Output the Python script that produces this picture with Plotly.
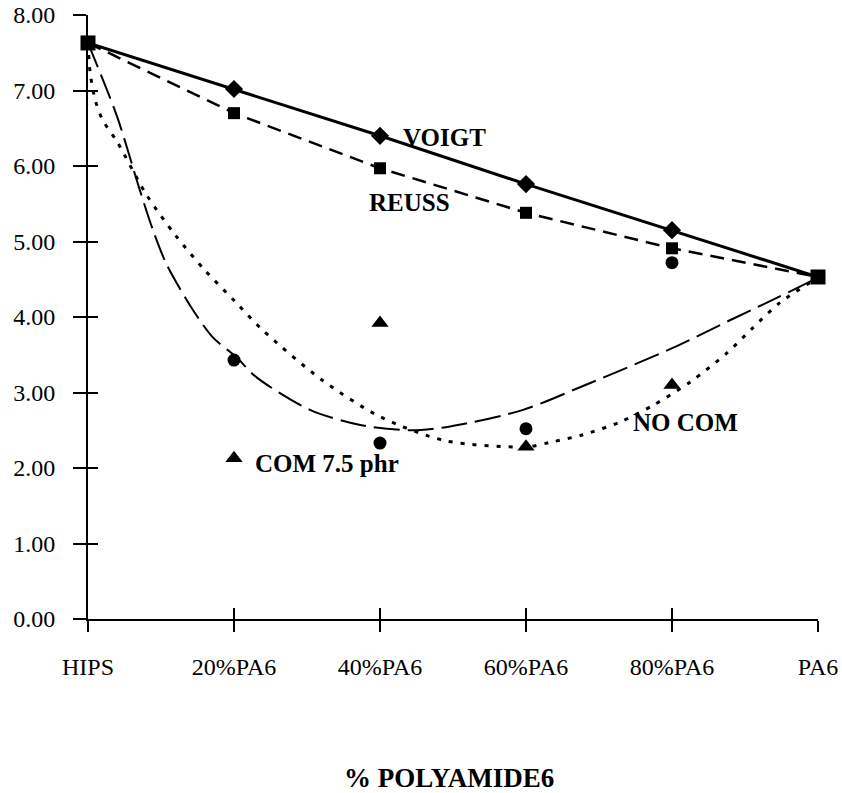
import plotly.graph_objects as go

# ---------------- data ----------------
categories = ["HIPS", "20%PA6", "40%PA6", "60%PA6", "80%PA6", "PA6"]
pa6_pct = [0, 20, 40, 60, 80, 100]

voigt = [7.63, 7.02, 6.40, 5.76, 5.15, 4.53]
reuss = [7.63, 6.70, 5.97, 5.38, 4.91, 4.53]
no_com = [7.63, 3.43, 2.33, 2.52, 4.72, 4.53]      # circles
com_75 = [7.63, 2.13, 3.92, 2.28, 3.10, 4.53]      # triangles

# trend curves
trend_long_x = [0, 4, 7.1, 8.9, 10.8, 14.4, 17.1, 20.3, 23.1, 30.4, 37.3, 44, 49.6,
                59.6, 67.4, 80.1, 88, 93, 100]
trend_long_y = [7.63, 6.65, 5.68, 5.15, 4.69, 4.09, 3.73, 3.47, 3.20, 2.77, 2.57, 2.50, 2.55,
                2.77, 3.07, 3.59, 3.96, 4.19, 4.52]

trend_dot_x = [0, 0.3, 1, 2, 4, 8, 12, 16, 20, 24, 32, 40, 49, 60, 63.3, 67.8, 72.9,
               77.4, 82.5, 87.5, 91, 94.8, 100]
trend_dot_y = [7.63, 7.23, 6.87, 6.61, 6.32, 5.62, 5.08, 4.62, 4.22, 3.82, 3.17, 2.68, 2.36,
               2.28, 2.34, 2.44, 2.61, 2.83, 3.14, 3.52, 3.85, 4.19, 4.52]

y_ticks = [0, 1, 2, 3, 4, 5, 6, 7, 8]

# ---------------- figure ----------------
serif = "Liberation Serif, Times New Roman, serif"
fig = go.Figure()

def sizes(inner, end):
    n = len(pa6_pct)
    return [end if i in (0, n - 1) else inner for i in range(n)]

def mk(symbol, size):
    return dict(symbol=symbol, size=size, color="black", opacity=1,
                line=dict(width=0, color="black"))

fig.add_trace(go.Scatter(x=trend_long_x, y=trend_long_y, mode="lines",
                         line=dict(color="black", width=2, dash="26px,8px",
                                   shape="spline", smoothing=0.8),
                         hoverinfo="skip"))
fig.add_trace(go.Scatter(x=trend_dot_x, y=trend_dot_y, mode="lines",
                         line=dict(color="black", width=3, dash="4px,8px",
                                   shape="spline", smoothing=0.8),
                         hoverinfo="skip"))

fig.add_trace(go.Scatter(x=pa6_pct, y=com_75, mode="markers", cliponaxis=False,
                         marker=mk("triangle-up", sizes(15, 0))))
fig.add_trace(go.Scatter(x=pa6_pct, y=no_com, mode="markers", cliponaxis=False,
                         marker=mk("circle", sizes(13, 0))))
fig.add_trace(go.Scatter(x=pa6_pct, y=voigt, mode="lines+markers", cliponaxis=False,
                         line=dict(color="black", width=3),
                         marker=mk("diamond", sizes(14, 0))))
fig.add_trace(go.Scatter(x=pa6_pct, y=reuss, mode="lines+markers", cliponaxis=False,
                         line=dict(color="black", width=2.5, dash="14px,8px"),
                         marker=mk("square", sizes(12, 15))))

# invisible trace to carry the overlay axes (inside half of crossing ticks)
fig.add_trace(go.Scatter(x=pa6_pct, y=voigt, mode="markers", xaxis="x2", yaxis="y2",
                         marker=dict(opacity=0), hoverinfo="skip"))

axis_common = dict(showgrid=False, zeroline=False, linecolor="black", linewidth=2,
                   tickcolor="black", tickwidth=2, automargin=False)

fig.update_layout(
    width=842, height=793,
    margin=dict(l=88, r=24, t=15, b=174, autoexpand=False),
    paper_bgcolor="white", plot_bgcolor="white",
    showlegend=False,
    xaxis=dict(range=[0, 100], tickmode="array", tickvals=pa6_pct, ticktext=categories,
               showline=True, ticks="outside", ticklen=11, ticklabelstandoff=14,
               tickfont=dict(family=serif, size=24, color="black"), **axis_common),
    yaxis=dict(range=[0, 8], tickmode="array", tickvals=y_ticks, tickformat=".2f",
               showline=True, ticks="outside", ticklen=13, ticklabelstandoff=13,
               tickfont=dict(family=serif, size=24, color="black"), **axis_common),
    xaxis2=dict(overlaying="x", anchor="y", side="bottom", range=[0, 100],
                tickmode="array", tickvals=pa6_pct, ticks="inside", ticklen=11,
                showticklabels=False, showline=False, showgrid=False, zeroline=False,
                tickcolor="black", tickwidth=2, automargin=False),
    yaxis2=dict(overlaying="y", anchor="x", side="left", range=[0, 8],
                tickmode="array", tickvals=y_ticks, ticks="inside", ticklen=10,
                showticklabels=False, showline=False, showgrid=False, zeroline=False,
                tickcolor="black", tickwidth=2, automargin=False),
)

lab_font = dict(family=serif, size=25, color="black")
def label(text, x, y):
    fig.add_annotation(x=x, y=y, xref="x", yref="y", text=f"<b>{text}</b>",
                       showarrow=False, font=lab_font, xanchor="center", yanchor="middle")

label("VOIGT", 48.8, 6.38)
label("REUSS", 44.0, 5.52)
label("NO COM", 81.9, 2.60)
label("COM 7.5 phr", 32.7, 2.06)

fig.add_annotation(x=0.495, y=-0.263, xref="paper", yref="paper",
                   text="<b>% POLYAMIDE6</b>", showarrow=False,
                   font=dict(family=serif, size=27, color="black"),
                   xanchor="center", yanchor="middle")

fig.write_html("out.html")
